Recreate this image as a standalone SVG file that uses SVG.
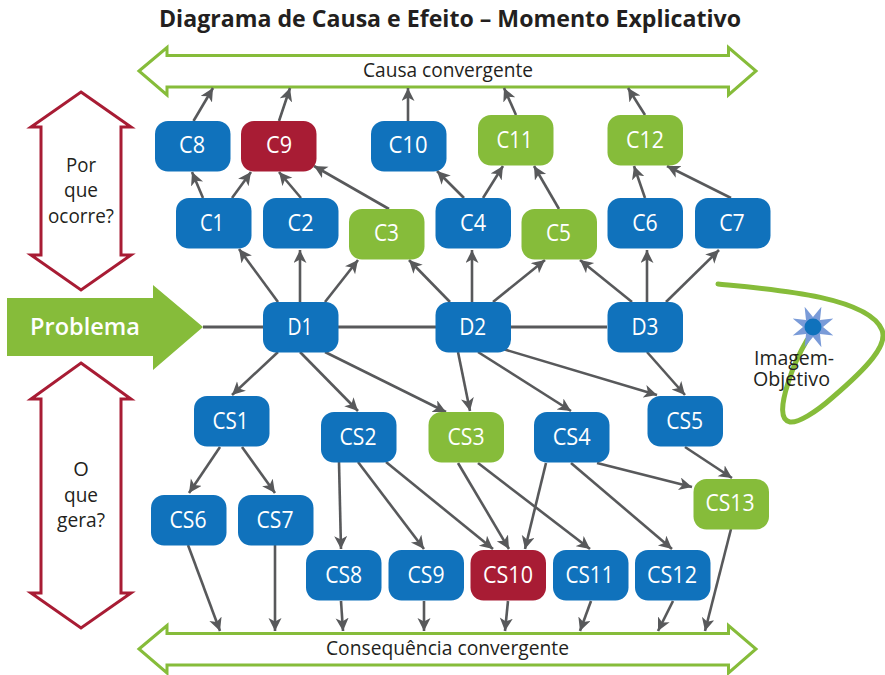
<svg xmlns="http://www.w3.org/2000/svg" width="885" height="675" viewBox="0 0 885 675">
<style>
text{font-family:"Open Sans","Noto Sans","Liberation Sans",sans-serif;text-anchor:middle;fill:#231f20}
.t{font-size:20px}
.n text{font-size:23px;fill:#fff}
.n rect{stroke-width:0}
.b rect{fill:#1072bc}.g rect{fill:#86bc3a}.r rect{fill:#a81c34}
.c line{stroke:#58595b;stroke-width:2.6;marker-end:url(#a)}
.o{fill:#fff;stroke:#86bc3a;stroke-width:3}
.v{fill:#fff;stroke:#a81c34;stroke-width:3}
</style>
<defs>
<marker id="a" markerUnits="userSpaceOnUse" markerWidth="15" markerHeight="14" refX="13" refY="6.500" orient="auto"><path d="M0,0 L13,6.500 L0,13 L3.500,6.500 Z" fill="#58595b"/></marker>
</defs>
<rect width="885" height="675" fill="#fff"/>
<text id="title" x="450" y="27" style="font-size:24px;font-weight:700" textLength="582" lengthAdjust="spacingAndGlyphs">Diagrama de Causa e Efeito – Momento Explicativo</text>

<g id="causa-convergente">
<path class="o" d="M139,71 L167,47.500 V55.500 H728.500 V47.500 L756,71 L728.500,95 V87 H167 V95 Z"/>
<text class="t" x="448" y="77" textLength="170" lengthAdjust="spacingAndGlyphs">Causa convergente</text>
</g>
<g id="consequencia-convergente">
<path class="o" d="M139,649 L167,625.500 V633.500 H728.500 V625.500 L756,649 L728.500,673 V665 H167 V673 Z"/>
<text class="t" x="447.500" y="655" textLength="243" lengthAdjust="spacingAndGlyphs">Consequência convergente</text>
</g>
<g id="por-que-ocorre">
<path class="v" d="M81,92 L131,127 H121 V255 H131 L81,290 L31,255 H41 V127 H31 Z"/>
<text class="t" x="81" y="172" textLength="30" lengthAdjust="spacingAndGlyphs">Por</text><text class="t" x="81" y="197" textLength="34" lengthAdjust="spacingAndGlyphs">que</text><text class="t" x="81" y="223" textLength="66" lengthAdjust="spacingAndGlyphs">ocorre?</text>
</g>
<g id="o-que-gera">
<path class="v" d="M81,363 L131,399 H121 V593 H131 L81,628 L31,593 H41 V399 H31 Z"/>
<text class="t" x="81" y="476">O</text><text class="t" x="81" y="502" textLength="34" lengthAdjust="spacingAndGlyphs">que</text><text class="t" x="81" y="527" textLength="48" lengthAdjust="spacingAndGlyphs">gera?</text>
</g>

<g id="imagem-objetivo">
<path d="M718,284 C770,289 868,296 882,330 C888,345 868,367 833,397 C815,413 798,423 790,422 C780,420 781,405 788,383 C793,367 800,352 807,340" fill="none" stroke="#86bc3a" stroke-width="5" stroke-linecap="round"/>
<path fill="#7a9bd8" d="M804.600,306.700 L813,317 L821.400,306.700 L820,320 L833.300,318.600 L823,327 L833.300,335.400 L820,334 L821.400,347.300 L813,337 L804.600,347.300 L806,334 L792.700,335.400 L803,327 L792.700,318.600 L806,320 Z"/>
<circle cx="813" cy="327" r="8.500" fill="#1072bc"/>
<text class="t" x="794" y="365" textLength="80" lengthAdjust="spacingAndGlyphs">Imagem-</text>
<text class="t" x="791.500" y="386" textLength="77" lengthAdjust="spacingAndGlyphs">Objetivo</text>
</g>

<g id="connectors" class="c">
<path d="M203,327 H607" stroke="#58595b" stroke-width="3" fill="none"/>
<line x1="193.500" y1="121" x2="213" y2="88"/>
<line x1="279" y1="121" x2="290" y2="88"/>
<line x1="408" y1="121" x2="408" y2="88"/>
<line x1="516" y1="115" x2="504" y2="88"/>
<line x1="645" y1="115" x2="628" y2="88"/>
<line x1="203" y1="198" x2="192" y2="172"/>
<line x1="232" y1="198" x2="251" y2="172"/>
<line x1="301" y1="198" x2="279" y2="172"/>
<line x1="389" y1="209" x2="314" y2="166"/>
<line x1="464" y1="198" x2="437" y2="171"/>
<line x1="483" y1="198" x2="503" y2="166"/>
<line x1="559" y1="209" x2="534" y2="166"/>
<line x1="645" y1="198" x2="634" y2="166"/>
<line x1="731" y1="198" x2="667" y2="166"/>
<line x1="278" y1="302" x2="239" y2="249"/>
<line x1="300" y1="302" x2="300" y2="250"/>
<line x1="325" y1="302" x2="358" y2="260"/>
<line x1="450" y1="302" x2="409" y2="260"/>
<line x1="472" y1="302" x2="472" y2="250"/>
<line x1="493" y1="302" x2="545" y2="260"/>
<line x1="632" y1="302" x2="580" y2="260"/>
<line x1="647" y1="302" x2="647" y2="250"/>
<line x1="666" y1="302" x2="719" y2="250"/>
<line x1="278" y1="352" x2="232" y2="395"/>
<line x1="300" y1="352" x2="358" y2="411"/>
<line x1="325" y1="352" x2="446" y2="412"/>
<line x1="458" y1="352" x2="470" y2="411"/>
<line x1="478" y1="352" x2="571" y2="411"/>
<line x1="503" y1="349" x2="657" y2="395"/>
<line x1="647" y1="352" x2="685" y2="395"/>
<line x1="220" y1="447" x2="189" y2="493"/>
<line x1="242" y1="447" x2="275" y2="493"/>
<line x1="339" y1="462" x2="341" y2="549"/>
<line x1="358" y1="462" x2="424" y2="549"/>
<line x1="386" y1="462" x2="493" y2="549"/>
<line x1="458" y1="463" x2="509" y2="549"/>
<line x1="478" y1="463" x2="590" y2="549"/>
<line x1="546" y1="463" x2="525" y2="549"/>
<line x1="571" y1="463" x2="672" y2="549"/>
<line x1="597" y1="463" x2="692" y2="487"/>
<line x1="685" y1="447" x2="732" y2="478"/>
<line x1="188" y1="545" x2="220" y2="631"/>
<line x1="275" y1="545" x2="275" y2="631"/>
<line x1="341" y1="601" x2="343" y2="631"/>
<line x1="424" y1="601" x2="424" y2="631"/>
<line x1="508" y1="601" x2="505" y2="631"/>
<line x1="591" y1="601" x2="580" y2="631"/>
<line x1="673" y1="601" x2="658" y2="631"/>
<line x1="731" y1="529" x2="705" y2="631"/>
</g>

<g id="problema">
<path fill="#86bc3a" d="M7,298 H153 V285 L203,327 L153,370 V356 H7 Z"/>
<text x="85" y="335" style="font-size:24px;font-weight:600;fill:#fff" textLength="110" lengthAdjust="spacingAndGlyphs">Problema</text>
</g>

<g class="n b" id="C8"><rect x="155" y="121" width="75.500" height="50.500" rx="13"/><text x="192" y="153" textLength="26" lengthAdjust="spacingAndGlyphs">C8</text></g>
<g class="n r" id="C9"><rect x="241" y="121" width="75.500" height="50.500" rx="13"/><text x="279" y="153" textLength="26" lengthAdjust="spacingAndGlyphs">C9</text></g>
<g class="n b" id="C10"><rect x="371" y="121" width="75.500" height="50.500" rx="13"/><text x="408" y="153" textLength="39" lengthAdjust="spacingAndGlyphs">C10</text></g>
<g class="n g" id="C11"><rect x="478" y="115" width="75.500" height="50.500" rx="13"/><text x="514.500" y="148" textLength="36" lengthAdjust="spacingAndGlyphs">C11</text></g>
<g class="n g" id="C12"><rect x="607.500" y="115" width="75.500" height="50.500" rx="13"/><text x="645" y="148" textLength="38" lengthAdjust="spacingAndGlyphs">C12</text></g>
<g class="n b" id="C1"><rect x="176" y="198" width="75.500" height="50.500" rx="13"/><text x="212" y="231" textLength="24" lengthAdjust="spacingAndGlyphs">C1</text></g>
<g class="n b" id="C2"><rect x="263" y="198" width="75.500" height="50.500" rx="13"/><text x="300.500" y="231" textLength="26" lengthAdjust="spacingAndGlyphs">C2</text></g>
<g class="n g" id="C3"><rect x="349" y="209" width="75.500" height="50.500" rx="13"/><text x="386.500" y="241" textLength="25" lengthAdjust="spacingAndGlyphs">C3</text></g>
<g class="n b" id="C4"><rect x="435.500" y="198" width="75.500" height="50.500" rx="13"/><text x="473" y="231" textLength="26" lengthAdjust="spacingAndGlyphs">C4</text></g>
<g class="n g" id="C5"><rect x="521.500" y="209" width="75.500" height="50.500" rx="13"/><text x="558.500" y="241" textLength="25" lengthAdjust="spacingAndGlyphs">C5</text></g>
<g class="n b" id="C6"><rect x="607.500" y="198" width="75.500" height="50.500" rx="13"/><text x="645" y="231" textLength="25.500" lengthAdjust="spacingAndGlyphs">C6</text></g>
<g class="n b" id="C7"><rect x="695" y="198" width="75.500" height="50.500" rx="13"/><text x="732" y="231" textLength="25.500" lengthAdjust="spacingAndGlyphs">C7</text></g>
<g class="n b" id="D1"><rect x="263" y="302" width="75.500" height="50.500" rx="13"/><text x="300" y="335" textLength="25" lengthAdjust="spacingAndGlyphs">D1</text></g>
<g class="n b" id="D2"><rect x="435.500" y="302" width="75.500" height="50.500" rx="13"/><text x="472.700" y="335" textLength="27" lengthAdjust="spacingAndGlyphs">D2</text></g>
<g class="n b" id="D3"><rect x="607.500" y="302" width="75.500" height="50.500" rx="13"/><text x="645" y="335" textLength="27" lengthAdjust="spacingAndGlyphs">D3</text></g>
<g class="n b" id="CS1"><rect x="194" y="396" width="75.500" height="50.500" rx="13"/><text x="230.500" y="429" textLength="36" lengthAdjust="spacingAndGlyphs">CS1</text></g>
<g class="n b" id="CS2"><rect x="321" y="412" width="75.500" height="50.500" rx="13"/><text x="358" y="445" textLength="37" lengthAdjust="spacingAndGlyphs">CS2</text></g>
<g class="n g" id="CS3"><rect x="428.500" y="412" width="75.500" height="50.500" rx="13"/><text x="466" y="445" textLength="37" lengthAdjust="spacingAndGlyphs">CS3</text></g>
<g class="n b" id="CS4"><rect x="534" y="412" width="75.500" height="50.500" rx="13"/><text x="571.700" y="445" textLength="38" lengthAdjust="spacingAndGlyphs">CS4</text></g>
<g class="n b" id="CS5"><rect x="647.500" y="396" width="75.500" height="50.500" rx="13"/><text x="684.700" y="429" textLength="37" lengthAdjust="spacingAndGlyphs">CS5</text></g>
<g class="n b" id="CS6"><rect x="151" y="495" width="75.500" height="50.500" rx="13"/><text x="188" y="527.500" textLength="37" lengthAdjust="spacingAndGlyphs">CS6</text></g>
<g class="n b" id="CS7"><rect x="238" y="495" width="75.500" height="50.500" rx="13"/><text x="275" y="527.500" textLength="37" lengthAdjust="spacingAndGlyphs">CS7</text></g>
<g class="n b" id="CS8"><rect x="306" y="550" width="75.500" height="50.500" rx="13"/><text x="343.700" y="583" textLength="37" lengthAdjust="spacingAndGlyphs">CS8</text></g>
<g class="n b" id="CS9"><rect x="388.500" y="550" width="75.500" height="50.500" rx="13"/><text x="426" y="583" textLength="37" lengthAdjust="spacingAndGlyphs">CS9</text></g>
<g class="n r" id="CS10"><rect x="470.500" y="550" width="75.500" height="50.500" rx="13"/><text x="508" y="583" textLength="50" lengthAdjust="spacingAndGlyphs">CS10</text></g>
<g class="n b" id="CS11"><rect x="553" y="550" width="75.500" height="50.500" rx="13"/><text x="589.500" y="583" textLength="48" lengthAdjust="spacingAndGlyphs">CS11</text></g>
<g class="n b" id="CS12"><rect x="635" y="550" width="75.500" height="50.500" rx="13"/><text x="672" y="583" textLength="50" lengthAdjust="spacingAndGlyphs">CS12</text></g>
<g class="n g" id="CS13"><rect x="693.500" y="479" width="75.500" height="50.500" rx="13"/><text x="730" y="511" textLength="49" lengthAdjust="spacingAndGlyphs">CS13</text></g>
</svg>
